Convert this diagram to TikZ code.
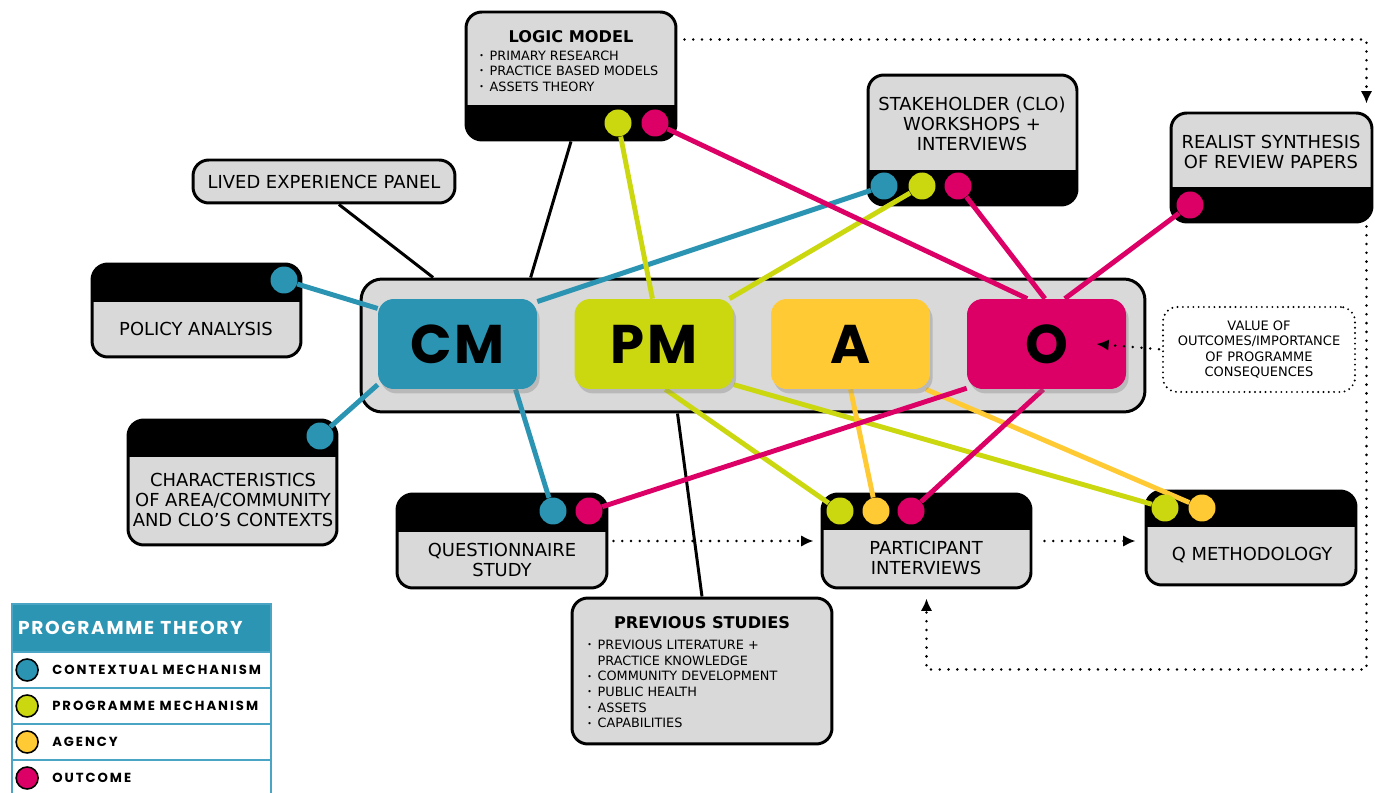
\documentclass[tikz,border=0pt]{standalone}
\usepackage{fontspec}
\usepackage{graphicx}
\setmainfont{DejaVu Sans}
\newfontfamily\bigfont[LetterSpace=6]{Poppins}
\newfontfamily\legfont[LetterSpace=15]{Poppins}
\newfontfamily\headfont[LetterSpace=9]{Poppins}
\usetikzlibrary{arrows.meta,shadows,positioning}
\definecolor{cmblue}{HTML}{2A94B2}
\definecolor{pmlime}{HTML}{CBD70F}
\definecolor{ayellow}{HTML}{FFCA33}
\definecolor{omagenta}{HTML}{DC0066}
\definecolor{boxgray}{HTML}{D9D9D9}
\definecolor{legblue}{HTML}{2C95B3}
\definecolor{legline}{HTML}{4AA5C4}
\pgfdeclarelayer{back}
\pgfdeclarelayer{mid}
\pgfsetlayers{back,mid,main}
\newcommand{\bul}{\raisebox{0.25ex}{\scalebox{0.6}{•}}\hspace{0.45em}}
\newcommand{\nobul}{\phantom{\scalebox{0.6}{•}}\hspace{0.45em}}
\tikzset{
  srcbox/.style={draw, line width=1.7pt, fill=boxgray, rounded corners=9pt, inner sep=0pt},
  bandtop/.style={path picture={\fill[black, sharp corners] (path picture bounding box.north west) rectangle ([yshift=-#1]path picture bounding box.north east);}},
  bandbot/.style={path picture={\fill[black, sharp corners] (path picture bounding box.south west) rectangle ([yshift=#1]path picture bounding box.south east);}},
  lab/.style={font=\fontsize{10.2}{11.4}\selectfont, align=center, inner sep=0pt},
  boxtitle/.style={font=\bfseries\fontsize{9.2}{11}\selectfont, inner sep=0pt},
  bullets/.style={font=\fontsize{7.3}{8.9}\selectfont, align=left, anchor=west, inner sep=0pt},
  dot/.style={circle, fill=#1, minimum size=0.54cm, inner sep=0pt},
  ptbox/.style={fill=#1, rounded corners=9pt, minimum width=3.18cm, minimum height=1.8cm, inner sep=0pt,
    font=\bigfont\bfseries\fontsize{31}{31}\selectfont,
    drop shadow={shadow xshift=1.5pt, shadow yshift=-2.5pt, opacity=0.35}},
  link/.style={draw=#1, line width=2.8pt},
  plain/.style={draw=black, line width=1.7pt},
  dotarrow/.style={line width=1.6pt, dash pattern=on 0pt off 5pt, line cap=round, -{Latex[length=7pt,width=6.5pt]}},
  leghead/.style={fill=legblue, draw=legline, line width=1pt, minimum width=5.18cm, minimum height=0.96cm,
    text width=4.94cm, align=left, inner xsep=0.12cm, text=white, font=\headfont\bfseries\fontsize{10.6}{12}\selectfont},
  legrow/.style={draw=legline, line width=1pt, minimum width=5.18cm, minimum height=0.72cm, inner sep=0pt},
  legdot/.style={circle, draw=black, line width=0.9pt, minimum size=0.44cm, inner sep=0pt},
  legtext/.style={font=\legfont\bfseries\fontsize{7.5}{9}\selectfont, inner sep=0pt}
}
\begin{document}
\begin{tikzpicture}[x=0.02cm, y=-0.02cm]
\useasboundingbox (0,0) rectangle (1375,793);

\begin{pgfonlayer}{back}
\node[draw, line width=1.7pt, fill=boxgray, rounded corners=12pt, minimum width=15.68cm, minimum height=2.66cm] (cmoa) at (753,345.5) {};
\node[srcbox, bandbot=0.7cm, minimum width=4.2cm, minimum height=2.56cm] (logic) at (571,76) {};
\node[srcbox, bandbot=0.7cm, minimum width=4.18cm, minimum height=2.6cm] (stake) at (972.5,140) {};
\node[srcbox, bandbot=0.7cm, minimum width=4.02cm, minimum height=2.18cm] (realist) at (1271.5,167.5) {};
\node[srcbox, minimum width=5.24cm, minimum height=0.86cm] (lived) at (324,181.5) {};
\node[srcbox, bandtop=0.76cm, minimum width=4.18cm, minimum height=1.86cm] (policy) at (196.5,310.5) {};
\node[srcbox, bandtop=0.74cm, minimum width=4.18cm, minimum height=2.5cm] (context) at (232.5,482.5) {};
\node[srcbox, bandtop=0.76cm, minimum width=4.2cm, minimum height=1.88cm] (quest) at (502,541) {};
\node[srcbox, bandtop=0.72cm, minimum width=4.18cm, minimum height=1.88cm] (interv) at (926.5,541) {};
\node[srcbox, bandtop=0.72cm, minimum width=4.2cm, minimum height=1.88cm] (qmeth) at (1251,538) {};
\node[srcbox, minimum width=5.2cm, minimum height=2.92cm] (prev) at (702,671) {};
\end{pgfonlayer}

\node[boxtitle] (logictitle) at (571,37) {LOGIC MODEL};
\node[bullets] (logiclist) at (479,71) {\bul PRIMARY RESEARCH\\\bul PRACTICE BASED MODELS\\\bul ASSETS THEORY};
\node[lab] (staketext) at (972,124) {STAKEHOLDER (CLO)\\WORKSHOPS +\\INTERVIEWS};
\node[lab] (realisttext) at (1271,152) {REALIST SYNTHESIS\\OF REVIEW PAPERS};
\node[lab] (livedtext) at (lived.center) {LIVED EXPERIENCE PANEL};
\node[lab] (policytext) at (196,329) {POLICY ANALYSIS};
\node[lab] (contexttext) at (233,500) {CHARACTERISTICS\\OF AREA/COMMUNITY\\AND CLO'S CONTEXTS};
\node[lab] (questtext) at (502,560) {QUESTIONNAIRE\\STUDY};
\node[lab] (intervtext) at (926,558) {PARTICIPANT\\INTERVIEWS};
\node[lab] (qmethtext) at (1252,555) {Q METHODOLOGY};
\node[boxtitle] (prevtitle) at (702,623) {PREVIOUS STUDIES};
\node[bullets] (prevlist) at (587,684) {\bul PREVIOUS LITERATURE +\\\nobul PRACTICE KNOWLEDGE\\\bul COMMUNITY DEVELOPMENT\\\bul PUBLIC HEALTH\\\bul ASSETS\\\bul CAPABILITIES};
\node[draw, line width=1.2pt, dash pattern=on 0pt off 3pt, line cap=round, rounded corners=8pt, minimum width=3.84cm, minimum height=1.7cm,
  font=\fontsize{7.4}{8.9}\selectfont, align=center, inner sep=0pt] (value) at (1259,349.5) {VALUE OF\\OUTCOMES/IMPORTANCE\\OF PROGRAMME\\CONSEQUENCES};

\node[dot=pmlime] (lmPM) at (618,123) {};
\node[dot=omagenta] (lmO) at (655,123) {};
\node[dot=cmblue] (skCM) at (884,186) {};
\node[dot=pmlime] (skPM) at (922,186) {};
\node[dot=omagenta] (skO) at (958,186) {};
\node[dot=omagenta] (rsO) at (1190,205) {};
\node[dot=cmblue] (paCM) at (284,280) {};
\node[dot=cmblue] (chCM) at (320,436) {};
\node[dot=cmblue] (qsCM) at (553,511) {};
\node[dot=omagenta] (qsO) at (589,511) {};
\node[dot=pmlime] (piPM) at (840,511) {};
\node[dot=ayellow] (piA) at (876,511) {};
\node[dot=omagenta] (piO) at (911,511) {};
\node[dot=pmlime] (qmPM) at (1165,508) {};
\node[dot=ayellow] (qmA) at (1202,508) {};

\node[ptbox=cmblue] (CM) at (457.5,344) {CM};
\node[ptbox=pmlime] (PM) at (654,344) {PM};
\node[ptbox=ayellow] (A) at (850.5,344) {A};
\node[ptbox=omagenta] (O) at (1046.5,344) {O};

\begin{pgfonlayer}{mid}
\draw[plain] (logic.south) -- (cmoa.163);
\draw[plain] (lived.303) -- (cmoa.168);
\draw[plain] (cmoa.222) -- (prev.north);
\draw[link=cmblue] (paCM) -- (CM.156);
\draw[link=cmblue] (chCM) -- (CM.207);
\draw[link=cmblue] (qsCM) -- (CM.322);
\draw[link=cmblue] (skCM) -- (CM.28);
\draw[link=pmlime] (lmPM) -- (PM.92);
\draw[link=pmlime] (skPM) -- (PM.31);
\draw[link=pmlime] (piPM) -- (PM.284);
\draw[link=pmlime] (qmPM) -- (PM.333);
\draw[link=ayellow] (piA) -- (A.270);
\draw[link=ayellow] (qmA) -- (A.329);
\draw[link=omagenta] (lmO) -- (O.113);
\draw[link=omagenta] (skO) -- (O.92);
\draw[link=omagenta] (rsO) -- (O.68);
\draw[link=omagenta] (qsO) -- (O.209);
\draw[link=omagenta] (piO) -- (O.266);
\end{pgfonlayer}

\draw[dotarrow, shorten >=0.16cm] ([xshift=0.14cm,yshift=-0.58cm]logic.north east) -| ([xshift=-0.14cm]realist.north east);
\draw[dotarrow, shorten <=0.1cm, shorten >=0.14cm] (quest.east) -- (interv.west);
\draw[dotarrow, shorten <=0.24cm, shorten >=0.18cm] (interv.east) -- (interv.east -| qmeth.west);
\draw[dotarrow, shorten <=0.06cm, shorten >=0.18cm] ([xshift=-0.14cm]realist.south east) |- ([yshift=-1.6cm]interv.south) -- (interv.south);
\draw[dotarrow, shorten <=0.06cm] (value.west) -- ([xshift=-0.6cm]O.east);

\node[leghead] (lhead) at (141.5,628) {PROGRAMME THEORY};
\foreach \lab/\col [count=\i] in {CONTEXTUAL MECHANISM/cmblue, PROGRAMME MECHANISM/pmlime, AGENCY/ayellow, OUTCOME/omagenta} {
  \node[legrow] (lrow\i) at (141.5,634+36*\i) {};
  \node[legdot, fill=\col] (ldot\i) at ([xshift=0.32cm]lrow\i.west) {};
  \node[legtext, right=0.26cm of ldot\i] (ltext\i) {\lab};
}
\end{tikzpicture}
\end{document}
